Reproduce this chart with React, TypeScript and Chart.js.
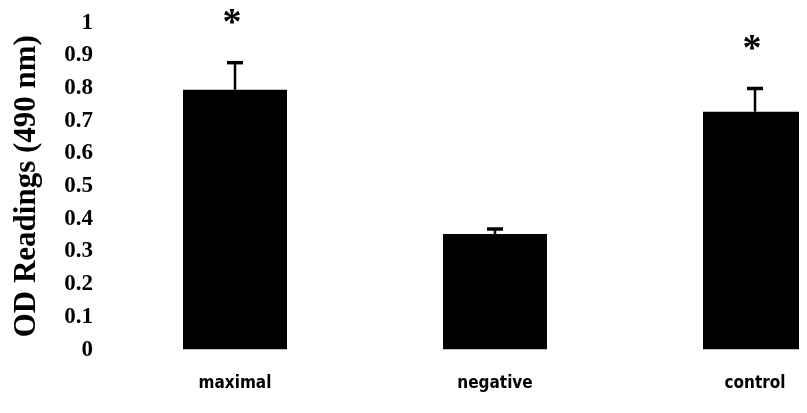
import React, { useEffect, useRef } from "react";
import { Chart, registerables } from "chart.js";

Chart.register(...registerables);

const categories = ["maximal", "negative", "control"];
const odValues = [0.795, 0.354, 0.728];
const errorValues = [0.083, 0.015, 0.071];
const significant = [true, false, true];
const yTicks = [0, 0.1, 0.2, 0.3, 0.4, 0.5, 0.6, 0.7, 0.8, 0.9, 1];

const errorBarPlugin = {
  id: "errorBars",
  afterDatasetsDraw(chart: any) {
    const ctx = chart.ctx;
    const meta = chart.getDatasetMeta(0);
    const yScale = chart.scales.y;
    ctx.save();
    ctx.strokeStyle = "#000";
    ctx.fillStyle = "#000";
    meta.data.forEach((bar: any, i: number) => {
      const x = bar.x;
      const yTop = yScale.getPixelForValue(odValues[i] + errorValues[i]);
      const yBar = yScale.getPixelForValue(odValues[i]);
      ctx.lineWidth = 2.5;
      ctx.beginPath();
      ctx.moveTo(x, yBar);
      ctx.lineTo(x, yTop);
      ctx.stroke();
      ctx.lineWidth = 3.5;
      ctx.beginPath();
      ctx.moveTo(x - 8, yTop);
      ctx.lineTo(x + 8, yTop);
      ctx.stroke();
      if (significant[i]) {
        ctx.font = "bold 38px 'Liberation Serif'";
        ctx.textAlign = "center";
        ctx.textBaseline = "middle";
        ctx.fillText("*", x - 3, yTop - 38);
      }
    });
    ctx.restore();
  },
};

export default function App() {
  const canvasRef = useRef<HTMLCanvasElement | null>(null);

  useEffect(() => {
    document.body.style.overflow = "hidden";
    const canvas = canvasRef.current;
    if (!canvas) return;
    const chart = new Chart(canvas, {
      type: "bar",
      data: {
        labels: categories,
        datasets: [
          {
            data: odValues,
            backgroundColor: "#000",
            borderWidth: 0,
            barPercentage: 0.4,
            categoryPercentage: 1,
          },
        ],
      },
      options: {
        animation: false,
        responsive: false,
        maintainAspectRatio: false,
        layout: { padding: { top: -6, right: 23, left: 0, bottom: -5 } },
        plugins: {
          legend: { display: false },
          tooltip: { enabled: false },
        },
        scales: {
          x: {
            grid: { display: false, drawTicks: false },
            border: { display: false },
            ticks: {
              color: "#000",
              padding: 24,
              font: { family: "'Liberation Sans Narrow', 'DejaVu Sans Condensed', sans-serif", size: 17, weight: "bold" },
            },
          },
          y: {
            min: 0,
            max: 1,
            afterBuildTicks(scale: any) {
              scale.ticks = yTicks.map((v) => ({ value: v }));
            },
            afterFit(scale: any) {
              scale.width = 97;
            },
            grid: { display: false, drawTicks: false },
            border: { display: false },
            ticks: {
              color: "#000",
              padding: 12,
              font: { family: "'Liberation Serif', serif", size: 23, weight: "bold" },
              callback: (v: any) => String(Math.round(Number(v) * 10) / 10),
            },
            title: {
              display: true,
              text: "OD Readings (490 nm)",
              color: "#000",
              padding: { top: 0, bottom: 0 },
              font: { family: "'Liberation Serif', serif", size: 31, weight: "bold" },
            },
          },
        },
      },
      plugins: [errorBarPlugin],
    });
    return () => chart.destroy();
  }, []);

  return (
    <div style={{ width: 799, height: 405, overflow: "hidden" }}>
      <canvas
        ref={canvasRef}
        width={900}
        height={416}
        style={{ width: 900, height: 416, display: "block", marginTop: -11 }}
      />
    </div>
  );
}
